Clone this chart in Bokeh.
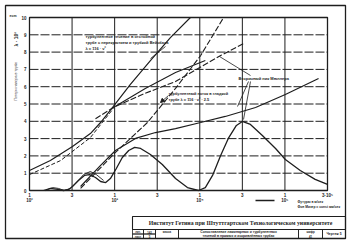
import math
from bokeh.plotting import figure
from bokeh.models import Label, Range1d, Arrow, NormalHead
from bokeh.core.properties import value
from bokeh.embed import file_html
from bokeh.resources import INLINE

# ---------------- data ----------------
x_ticks = [0, 1, 2, 3, 4, 5, 6, 7]
x_tick_labels = ["1\n10²", "3", "1\n10³", "3", "1\n10⁴", "3", "1\n10⁵", "3·10⁵"]
y_ticks = [0, 1, 2, 3, 4, 5, 6, 7, 8, 9, 10]
y_tick_labels = ["0", "1", "2", "3", "4", "5", "6", "7", "8", "9", "10"]

# laminar-type steep curve (solid)
curve_a_x = [0.00, 0.49, 1.01, 1.43, 1.67, 1.97, 2.37, 2.84, 3.31, 3.78]
curve_a_y = [1.16, 1.73, 2.54, 3.29, 3.93, 4.86, 6.13, 7.51, 8.84, 10.0]
# dashed companion of the laminar curve
curve_a2_x = [0.00, 0.73, 1.43, 1.97]
curve_a2_y = [0.92, 1.73, 3.06, 4.74]
# second steep curve (dashed)
curve_b_x = [1.20, 2.02, 2.77, 3.43, 4.02, 4.56]
curve_b_y = [0.12, 2.20, 3.93, 5.90, 7.80, 10.0]
# flattening curve (solid)
curve_c_x = [1.20, 1.67, 2.02, 2.49, 2.96, 3.43, 4.02, 4.60, 5.31, 6.01, 6.79]
curve_c_y = [0.23, 1.45, 2.31, 3.01, 3.35, 3.58, 3.93, 4.28, 4.80, 5.55, 6.47]
# medium dashed line
curve_d_x = [1.55, 1.97, 2.70, 3.43, 4.49, 5.03]
curve_d_y = [4.15, 4.80, 5.60, 6.30, 7.80, 8.50]
# short solid curve
curve_e_x = [1.97, 2.72, 3.43, 4.13]
curve_e_y = [4.80, 5.90, 6.82, 7.51]
# wave curve (solid)
wave_x = [0.33, 0.49, 0.66, 0.80, 0.92, 1.01, 1.15, 1.29, 1.41, 1.55, 1.67, 1.79,
          1.90, 2.04, 2.18, 2.33, 2.47, 2.61, 2.84, 3.12, 3.43, 3.71, 3.97, 4.13,
          4.30, 4.49, 4.67, 4.86, 5.00, 5.19, 5.47, 5.78, 6.01, 6.36, 6.71, 7.00]
wave_y = [0.00, 0.12, 0.06, 0.00, 0.06, 0.23, 0.58, 0.87, 0.92, 0.75, 0.52, 0.46,
          0.69, 1.27, 1.91, 2.31, 2.49, 2.43, 2.08, 1.50, 0.69, 0.17, 0.00, 0.17,
          0.87, 2.02, 3.01, 3.76, 3.99, 3.82, 3.18, 2.43, 1.79, 1.16, 0.64, 0.35]
# small double wiggle
wiggle_x = [0.38, 0.54, 0.68, 0.82, 0.96, 1.10, 1.27, 1.43, 1.57, 1.74]
wiggle_y = [0.00, 0.17, 0.12, 0.00, 0.12, 0.46, 0.92, 1.10, 0.92, 0.58]

INK = "#1e1e1e"
FONT = "Liberation Sans"
SERIF = "Liberation Serif"

# ---------------- layout (canvas pixels) ----------------
W, H = 350, 244
PL, PR, PT, PB = 29, 327, 17, 190          # plot-area edges in canvas px
XMIN, XMAX = x_ticks[0], x_ticks[-1]
YMIN, YMAX = y_ticks[0], y_ticks[-1]
KX = (XMAX - XMIN) / (PR - PL)
KY = (YMAX - YMIN) / (PB - PT)


def dx(cx):
    return XMIN + (cx - PL) * KX


def dy(cy):
    return YMIN + (PB - cy) * KY


p = figure(width=W, height=H,
           x_range=Range1d(dx(0), dx(W)), y_range=Range1d(dy(H), dy(0)),
           output_backend="svg", toolbar_location=None, min_border=0)
p.xaxis.visible = False
p.yaxis.visible = False
p.xgrid.visible = False
p.ygrid.visible = False
p.outline_line_color = None
p.background_fill_color = "white"
p.border_fill_color = "white"

# grid lines
p.segment(x0=x_ticks, y0=[YMIN] * len(x_ticks), x1=x_ticks, y1=[YMAX] * len(x_ticks),
          line_color=INK, line_width=1.0)
p.segment(x0=[XMIN] * len(y_ticks), y0=y_ticks, x1=[XMAX] * len(y_ticks), y1=y_ticks,
          line_color=INK, line_width=1.0, line_dash="9 2")
# plot frame (axes)
p.quad(left=[XMIN], right=[XMAX], bottom=[YMIN], top=[YMAX], fill_color=None,
       line_color=INK, line_width=1.3)

# tick labels
p.text(x=x_ticks, y=[dy(192)] * len(x_ticks), text=x_tick_labels,
       text_font=value(FONT), text_font_style="bold", text_font_size="4.5px",
       text_color=INK, text_align="center", text_baseline="top", text_line_height=1.0)
p.text(x=[dx(26)] * len(y_ticks), y=y_ticks, text=y_tick_labels,
       text_font=value(FONT), text_font_style="bold", text_font_size="4.5px",
       text_color=INK, text_align="right", text_baseline="middle")

# curves
p.line(curve_a_x, curve_a_y, line_color=INK, line_width=1.2)
p.line(curve_a2_x, curve_a2_y, line_color=INK, line_width=1.0, line_dash="4 2")
p.line(curve_b_x, curve_b_y, line_color=INK, line_width=1.1, line_dash="6 2")
p.line(curve_c_x, curve_c_y, line_color=INK, line_width=1.2)
p.line(curve_d_x, curve_d_y, line_color=INK, line_width=1.1, line_dash="6 2")
p.line(curve_e_x, curve_e_y, line_color=INK, line_width=1.1)
p.line(wave_x, wave_y, line_color=INK, line_width=1.3)
p.line(wiggle_x, wiggle_y, line_color=INK, line_width=0.9)


def label(cx, cy, text, size="4px", style="bold", font=FONT, align="left",
          baseline="middle", angle=0.0):
    p.add_layout(Label(x=cx, y=H - cy, x_units="screen", y_units="screen",
                       text=text, text_font=font, text_font_size=size,
                       text_font_style=style, text_color=INK, text_align=align,
                       text_baseline=baseline, angle=angle))


def boxes(rects, lw=1.0):
    p.quad(left=[dx(r[0]) for r in rects], top=[dy(r[1]) for r in rects],
           right=[dx(r[2]) for r in rects], bottom=[dy(r[3]) for r in rects],
           fill_color=None, line_color=INK, line_width=lw)


def seg(x1, y1, x2, y2, head=False, lw=0.8):
    p.add_layout(Arrow(x_start=x1, y_start=H - y1, x_end=x2, y_end=H - y2,
                       start_units="screen", end_units="screen",
                       end=NormalHead(size=4, fill_color=INK, line_color=INK) if head else None,
                       line_color=INK, line_width=lw))


# annotation 1
label(85, 33.5, "турбулентное течение в отстойной\nтрубе с перекрытием и трубкой Вейсбаха\nλ = 116 · ν²",
      size="4px", baseline="top")
seg(165, 46, 150, 58)
# annotation 2
label(168, 90, "турбулентный поток в гладкой\nтрубе λ = 116 · ν² · 2.5", size="3.9px",
      baseline="top")
seg(168, 95, 160, 102, head=True)
# annotation 3
label(238, 78, "Вторичный пик Мюллера", size="4px")
seg(250, 75, 219, 56)
seg(250, 81, 243, 119)
seg(248, 81, 237, 106)

# axis side texts
label(9, 15, "ecm", size="3.5px")
label(15, 46, "λ · 10²", size="5px", angle=math.pi / 2)
label(15, 100, "Потери напора в трубе", size="3.6px", style="normal", angle=math.pi / 2)

# notes below axis
label(297, 201, "Футуры  в          м/сек", size="3.3px")
label(297, 206, "Фон Мизер  =  const  мм/сек", size="3.3px")
seg(255, 200, 274, 200, lw=1.3)

# page frame and title block
boxes([(5, 5, 345, 238)], lw=1.3)
boxes([(132, 216, 345, 229)], lw=1.1)
boxes([(132, 229, 143, 233.5), (143, 229, 155, 233.5),
       (132, 233.5, 143, 238), (143, 233.5, 155, 238),
       (155, 229, 178, 238), (178, 229, 298, 238),
       (298, 229, 322, 238), (322, 229, 345, 238)], lw=0.8)

label(240, 222.5, "Институт Гетина при Штуттгартском Технологическом университете",
      size="5.8px", font=SERIF, align="center")
label(238, 231.5, "Сопоставление ламинарных и турбулентных", size="3.4px", align="center")
label(238, 235.5, "течений в прямых и искривлённых трубах", size="3.4px", align="center")
label(137.5, 231.2, "лит.", size="2.8px", align="center")
label(149, 231.2, "142", size="2.8px", align="center")
label(137.5, 235.8, "лист", size="2.8px", align="center")
label(149, 235.8, "5", size="2.8px", align="center")
label(166.5, 231.2, "масса", size="2.8px", align="center")
label(310, 231.5, "шифр", size="2.8px", align="center")
label(310, 235.5, "41", size="2.8px", align="center")
label(333.5, 233.5, "Чертеж 5", size="3.4px", align="center")

open("out.html", "w").write(file_html(p, INLINE))
